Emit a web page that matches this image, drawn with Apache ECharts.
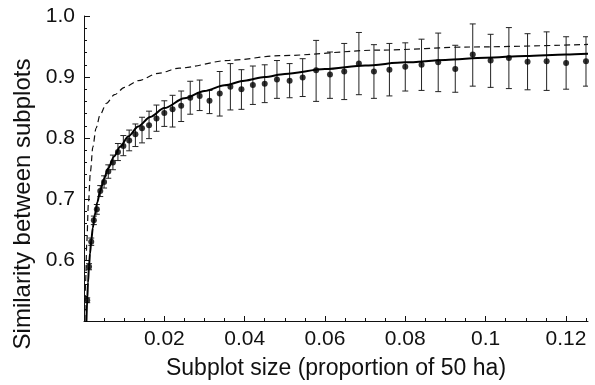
<!DOCTYPE html>
<html>
<head>
<meta charset="utf-8">
<script src="https://cdn.jsdelivr.net/npm/echarts@6/dist/echarts.min.js"></script>
<style>
html,body{margin:0;padding:0;background:#fff;}
#chart{width:595px;height:385px;}
</style>
</head>
<body>
<div id="chart"></div>
<script>
// Subplot size (proportion of 50 ha)
const subplotSize = [0.0008,0.00125,0.0018,0.00245,0.0032,0.00405,0.005,0.00605,0.0072,0.00845,
  0.0098,0.01125,0.0128,0.01445,0.0162,0.01805,0.02,0.02205,0.0242,0.02645,
  0.0288,0.03125,0.0338,0.03645,0.0392,0.04205,0.045,0.04805,0.0512,0.05445,
  0.0578,0.06125,0.0648,0.06845,0.0722,0.07605,0.08,0.08405,0.0882,0.09245,
  0.0968,0.10125,0.1058,0.11045,0.1152,0.12005,0.125];
// Mean similarity
const similarity = [0.534,0.589,0.630,0.665,0.683,0.713,0.728,0.745,0.760,0.777,
  0.787,0.796,0.806,0.816,0.821,0.832,0.841,0.847,0.853,0.866,
  0.869,0.861,0.873,0.884,0.880,0.887,0.889,0.896,0.894,0.899,
  0.911,0.904,0.909,0.922,0.909,0.912,0.917,0.920,0.924,0.913,
  0.937,0.927,0.931,0.925,0.926,0.923,0.926];
const lowerBound = [0.530,0.584,0.624,0.658,0.675,0.704,0.718,0.734,0.748,0.763,
  0.771,0.779,0.786,0.792,0.799,0.811,0.819,0.818,0.827,0.839,
  0.845,0.840,0.836,0.846,0.847,0.855,0.858,0.865,0.866,0.868,
  0.860,0.865,0.863,0.871,0.865,0.869,0.877,0.878,0.876,0.875,
  0.885,0.883,0.881,0.879,0.878,0.880,0.885];
const upperBound = [0.538,0.594,0.636,0.672,0.691,0.722,0.738,0.756,0.772,0.791,
  0.804,0.813,0.823,0.834,0.844,0.854,0.861,0.870,0.877,0.893,
  0.895,0.878,0.909,0.922,0.912,0.918,0.920,0.927,0.922,0.930,
  0.960,0.941,0.955,0.973,0.953,0.955,0.956,0.962,0.972,0.952,
  0.987,0.970,0.981,0.971,0.974,0.966,0.966];
// Fitted curve (solid)
const fitX = [0.0006,0.0008,0.001,0.00125,0.0015,0.0018,0.0022,0.0027,0.0033,0.004,
  0.005,0.006,0.0075,0.009,0.011,0.0135,0.0165,0.02,0.025,0.03,
  0.035,0.04,0.045,0.05,0.06,0.07,0.08,0.09,0.1,0.11,0.12,0.1255];
const fitY = [0.4985,0.5354,0.5631,0.5899,0.611,0.6314,0.653,0.6743,0.6943,0.7127,
  0.7334,0.750,0.7698,0.7856,0.8024,0.819,0.8346,0.849,0.865,0.877,
  0.8865,0.894,0.900,0.905,0.913,0.919,0.924,0.928,0.9315,0.9345,0.937,0.9383];
// Second curve (dashed)
const dashX = [0.0002,0.0004,0.0007,0.0011,0.0016,0.0022,0.003,0.004,0.0056,0.0076,
  0.0101,0.0135,0.0185,0.0237,0.0362,0.0487,0.0737,0.0962,0.1255];
const dashY = [0.50,0.565,0.630,0.693,0.745,0.785,0.816,0.838,0.857,0.871,
  0.883,0.894,0.906,0.9146,0.9273,0.935,0.9441,0.9492,0.9534];
// Ticks
const xMajorTicks = [0.02,0.04,0.06,0.08,0.1,0.12];
const xMinorTicks = [0.005,0.01,0.015,0.025,0.03,0.035,0.045,0.05,0.055,0.065,0.07,0.075,
  0.085,0.09,0.095,0.105,0.11,0.115,0.125];
const yMajorTicks = [0.6,0.7,0.8,0.9,1.0];
const yMinorTicks = [0.52,0.54,0.56,0.58,0.62,0.64,0.66,0.68,0.72,0.74,0.76,0.78,
  0.82,0.84,0.86,0.88,0.92,0.94,0.96,0.98];
const xTitle = 'Subplot size (proportion of 50 ha)';
const yTitle = 'Similarity between subplots';

const FONT = "'Liberation Sans', Arial, Helvetica, sans-serif";
const X_MIN = 0, X_MAX = 0.1255, Y_MIN = 0.5, Y_MAX = 1.0;

const meanData = subplotSize.map((x, i) => [x, similarity[i]]);
const barData = subplotSize.map((x, i) => [x, lowerBound[i], upperBound[i]]);
const fitData = fitX.map((x, i) => [x, fitY[i]]);
const dashData = dashX.map((x, i) => [x, dashY[i]]);

const chart = echarts.init(document.getElementById('chart'), null, {renderer: 'canvas'});

function baseX(extra) {
  return Object.assign({
    type: 'value', min: X_MIN, max: X_MAX, position: 'bottom', gridIndex: 0,
    splitLine: {show: false}
  }, extra);
}
function baseY(extra) {
  return Object.assign({
    type: 'value', min: Y_MIN, max: Y_MAX, position: 'left', gridIndex: 0,
    splitLine: {show: false}
  }, extra);
}

chart.setOption({
  animation: false,
  backgroundColor: '#fff',
  grid: {left: 84, right: 7, top: 16, bottom: 59, containLabel: false},
  graphic: [{
    type: 'text', x: 23, y: 204, rotation: Math.PI / 2,
    style: {text: yTitle, font: "24px 'Liberation Sans', Arial, sans-serif", fill: '#111',
      textAlign: 'center', textVerticalAlign: 'middle'}
  }],
  xAxis: [
    baseX({
      name: xTitle,
      nameLocation: 'middle', nameGap: 36,
      nameTextStyle: {fontFamily: FONT, fontSize: 23, color: '#111'},
      axisLine: {show: true, lineStyle: {color: '#111', width: 1}},
      axisTick: {show: true, inside: true, length: 5, customValues: xMajorTicks, lineStyle: {color: '#111'}},
      axisLabel: {show: true, customValues: xMajorTicks, margin: 8, fontFamily: FONT, fontSize: 21, color: '#111',
        formatter: v => String(+v.toFixed(3))}
    }),
    baseX({
      axisLine: {show: false},
      axisTick: {show: true, inside: true, length: 3, customValues: xMinorTicks, lineStyle: {color: '#111'}},
      axisLabel: {show: false}
    })
  ],
  yAxis: [
    baseY({
      axisLine: {show: true, lineStyle: {color: '#111', width: 1}},
      axisTick: {show: true, inside: true, length: 6, customValues: yMajorTicks, lineStyle: {color: '#111'}},
      axisLabel: {show: true, customValues: yMajorTicks, margin: 9, fontFamily: FONT, fontSize: 21, color: '#111',
        formatter: v => v.toFixed(1)}
    }),
    baseY({
      axisLine: {show: false},
      axisTick: {show: true, inside: true, length: 3, customValues: yMinorTicks, lineStyle: {color: '#111'}},
      axisLabel: {show: false}
    })
  ],
  series: [
    {
      type: 'line', data: dashData, xAxisIndex: 0, yAxisIndex: 0,
      smooth: 0.3, smoothMonotone: 'x', symbol: 'none', clip: true,
      lineStyle: {color: '#111', width: 1.2, type: [6, 4]}
    },
    {
      type: 'line', data: fitData, xAxisIndex: 0, yAxisIndex: 0,
      smooth: 0.3, smoothMonotone: 'x', symbol: 'none', clip: true,
      lineStyle: {color: '#000', width: 2}
    },
    {
      type: 'custom', data: barData, xAxisIndex: 0, yAxisIndex: 0, clip: true,
      renderItem: function (params, api) {
        const x = api.value(0);
        const lo = api.coord([x, api.value(1)]);
        const hi = api.coord([x, api.value(2)]);
        const hw = 3;
        const style = {stroke: '#222', lineWidth: 1};
        return {
          type: 'group',
          children: [
            {type: 'line', shape: {x1: lo[0], y1: lo[1], x2: hi[0], y2: hi[1]}, style: style},
            {type: 'line', shape: {x1: lo[0] - hw, y1: lo[1], x2: lo[0] + hw, y2: lo[1]}, style: style},
            {type: 'line', shape: {x1: hi[0] - hw, y1: hi[1], x2: hi[0] + hw, y2: hi[1]}, style: style}
          ]
        };
      },
      encode: {x: 0, y: [1, 2]}
    },
    {
      type: 'scatter', data: meanData, xAxisIndex: 0, yAxisIndex: 0,
      symbol: 'circle', symbolSize: 6, itemStyle: {color: '#000'}
    }
  ]
});
</script>
</body>
</html>
